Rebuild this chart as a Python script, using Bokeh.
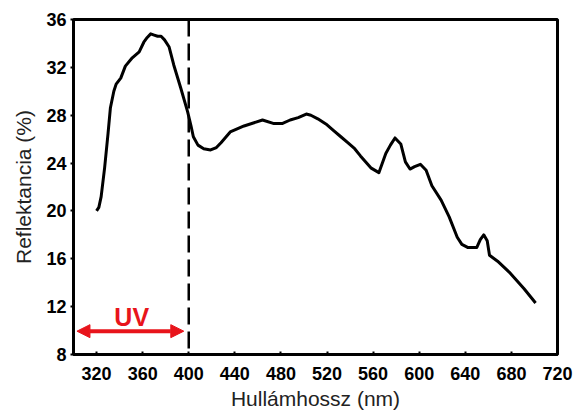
from bokeh.plotting import figure
from bokeh.models import Range1d, Span, Arrow, NormalHead, FixedTicker, Label
from bokeh.embed import file_html
from bokeh.resources import INLINE

wavelength = [320, 322, 324, 327, 330, 332, 335, 337, 341, 345, 351, 357, 361, 364,
              367, 370, 373, 376, 379, 383, 387, 393, 399, 402, 404, 408, 413, 419,
              424, 428, 436, 448, 464, 474, 481, 488, 495, 502, 506, 512, 520, 526,
              532, 538, 544, 549, 558, 565, 571, 575, 579, 584, 588, 592, 596, 601,
              606, 611, 619, 626, 633, 637, 642, 650, 653, 656, 659, 661, 668, 679,
              691, 701]
reflectance = [20.0, 20.3, 21.2, 23.6, 26.5, 28.6, 30.0, 30.6, 31.1, 32.1, 32.8, 33.3,
               34.1, 34.5, 34.8, 34.7, 34.6, 34.6, 34.3, 33.7, 32.2, 30.3, 28.3, 27.1,
               26.2, 25.5, 25.2, 25.1, 25.3, 25.7, 26.6, 27.1, 27.6, 27.3, 27.3, 27.6,
               27.8, 28.1, 28.0, 27.7, 27.2, 26.7, 26.2, 25.7, 25.2, 24.6, 23.6, 23.2,
               24.8, 25.5, 26.1, 25.6, 24.1, 23.5, 23.7, 23.9, 23.4, 22.1, 20.9, 19.5,
               17.8, 17.2, 16.95, 16.95, 17.6, 18.0, 17.5, 16.3, 15.8, 14.8, 13.5, 12.3]

x_ticks = [320, 360, 400, 440, 480, 520, 560, 600, 640, 680, 720]
y_ticks = [8, 12, 16, 20, 24, 28, 32, 36]
uv_boundary = 400
uv_arrow_x = [303.0, 395.7]
uv_arrow_y = 9.95
uv_label = "UV"
uv_label_pos = (350.5, 10.4)

p = figure(width=575, height=419, x_range=Range1d(300, 720), y_range=Range1d(8, 36),
           output_backend="svg", toolbar_location=None,
           min_border_left=73, min_border_right=18, min_border_top=19, min_border_bottom=65)
p.background_fill_color = "white"
p.border_fill_color = "white"
p.grid.visible = False
p.outline_line_color = "black"
p.outline_line_width = 3

for ax in (p.xaxis[0], p.yaxis[0]):
    ax.axis_line_width = 3
    ax.axis_line_color = "black"
    ax.major_tick_line_width = 2
    ax.minor_tick_line_color = None
    ax.major_label_text_font = "Liberation Sans"
    ax.major_label_text_font_style = "bold"
    ax.major_label_text_font_size = "18px"
    ax.major_label_text_color = "black"
    ax.axis_label_text_font = "Liberation Sans"
    ax.axis_label_text_font_style = "normal"
    ax.axis_label_text_font_size = "21px"
    ax.axis_label_text_color = "#222222"

p.xaxis.ticker = FixedTicker(ticks=x_ticks)
p.yaxis.ticker = FixedTicker(ticks=y_ticks)
p.xaxis.major_tick_in = 3
p.xaxis.major_tick_out = 0
p.yaxis.major_tick_in = 0
p.yaxis.major_tick_out = 3
p.xaxis.major_label_standoff = 12
p.yaxis.major_label_standoff = 4
p.xaxis.axis_label = "Hullámhossz (nm)"
p.yaxis.axis_label = "Reflektancia (%)"
p.xaxis.axis_label_standoff = 4
p.yaxis.axis_label_standoff = 8

p.line(wavelength, reflectance, line_color="black", line_width=3, line_join="round")

p.add_layout(Span(location=uv_boundary, dimension="height", line_color="black",
                  line_width=2.5, line_dash="17 7"))

red = "#e8141b"
p.add_layout(Arrow(x_start=uv_arrow_x[1], y_start=uv_arrow_y, x_end=uv_arrow_x[0], y_end=uv_arrow_y,
                   line_color=red, line_width=4,
                   start=NormalHead(size=13, fill_color=red, line_color=red),
                   end=NormalHead(size=13, fill_color=red, line_color=red)))
p.add_layout(Label(x=uv_label_pos[0], y=uv_label_pos[1], text=uv_label, text_color=red,
                   text_font="Liberation Sans", text_font_size="25px", text_font_style="bold",
                   text_align="center", text_baseline="bottom", y_offset=-5))

open("out.html", "w").write(file_html(p, INLINE))
